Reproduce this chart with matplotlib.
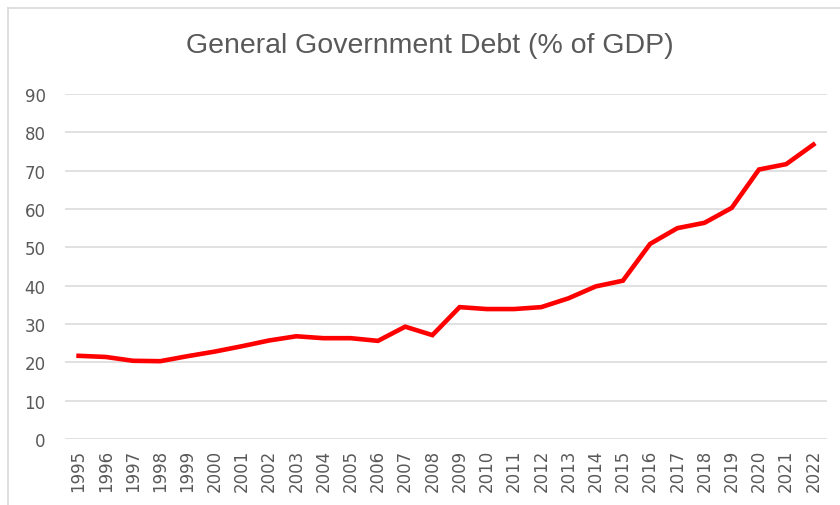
import matplotlib
matplotlib.use("Agg")
import matplotlib.pyplot as plt
from matplotlib.lines import Line2D

# Deuda del gobierno general en % del PIB, 1995-2022
years = list(range(1995, 2023))
debt = [21.7, 21.4, 20.4, 20.3, 21.6, 22.8, 24.2, 25.7, 26.8, 26.3,
        26.3, 25.6, 29.3, 27.1, 34.4, 33.9, 33.9, 34.4, 36.7, 39.8,
        41.3, 50.9, 55.0, 56.4, 60.3, 70.3, 71.7, 76.8]
yticks = list(range(0, 100, 10))

plt.rcParams['font.family'] = ['DejaVu Sans']
gris = '#595959'

fig = plt.figure(figsize=(8.4, 5.06), dpi=100)
ax = fig.add_axes([65/840, 1 - 440/506, (827 - 65)/840, (440 - 95)/506])

x = range(len(years))
ax.plot(x, debt, color='#FF0000', linewidth=3.3, solid_joinstyle='miter', zorder=3)

ax.set_xlim(-0.5, len(years) - 0.5)
ax.set_ylim(0, 90)
ax.set_yticks(yticks)
ax.set_xticks(list(x))
ax.set_xticklabels([str(a) for a in years], rotation=90)
ax.tick_params(axis='both', length=0, labelcolor=gris, labelsize=12)
ax.tick_params(axis='y', pad=14)
ax.tick_params(axis='x', pad=7)
ax.grid(axis='y', color='#D9D9D9', linewidth=1.1)
ax.set_axisbelow(True)
for s in ax.spines.values():
    s.set_visible(False)

fig.text(430/840, 1 - 46/506, 'General Government Debt (% of GDP)',
         ha='center', va='center', fontsize=20.5, color=gris,
         family='Liberation Sans')

# marco del grafico
fig.add_artist(Line2D([8/840, 1], [1 - 9/506, 1 - 9/506], color='#D9D9D9', linewidth=1.2))
fig.add_artist(Line2D([8/840, 8/840], [0, 1 - 9/506], color='#D9D9D9', linewidth=1.2))

fig.savefig('out.png', dpi=100)
